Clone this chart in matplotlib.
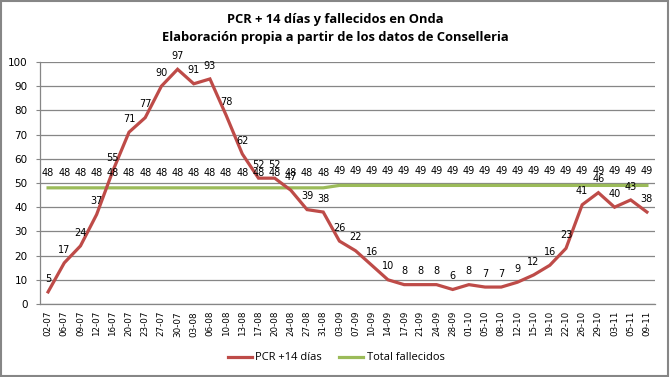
import numpy as np
import matplotlib
matplotlib.use("Agg")
import matplotlib.pyplot as plt
from matplotlib.patches import Rectangle

# Datos
fechas = ["02-07", "06-07", "09-07", "12-07", "16-07", "20-07", "23-07", "27-07",
          "30-07", "03-08", "06-08", "10-08", "13-08", "17-08", "20-08", "24-08",
          "27-08", "31-08", "03-09", "07-09", "10-09", "14-09", "17-09", "21-09",
          "24-09", "28-09", "01-10", "05-10", "08-10", "12-10", "15-10", "19-10",
          "22-10", "26-10", "29-10", "03-11", "05-11", "09-11"]
pcr = [5, 17, 24, 37, 55, 71, 77, 90, 97, 91, 93, 78, 62, 52, 52, 47, 39, 38,
       26, 22, 16, 10, 8, 8, 8, 6, 8, 7, 7, 9, 12, 16, 23, 41, 46, 40, 43, 38]
fallecidos = [48] * 18 + [49] * 20

rojo = "#BE4B48"
verde = "#9BBB59"
gris = "#868686"

fig = plt.figure(figsize=(6.7, 3.77), dpi=100)
ax = fig.add_axes([40 / 670, 73 / 377, 615 / 670, 242 / 377])

x = np.arange(len(fechas))
ax.plot(x, pcr, color=rojo, lw=2.3, solid_joinstyle="miter", zorder=3,
        label="PCR +14 días")
ax.plot(x, fallecidos, color=verde, lw=2.3, zorder=2, label="Total fallecidos")

# etiquetas de datos
for i, v in enumerate(pcr):
    ax.annotate(str(v), (i, v), xytext=(0, 6), textcoords="offset points",
                ha="center", va="bottom", fontsize=7, color="black",
                family="DejaVu Sans", zorder=5)
for i, v in enumerate(fallecidos):
    ax.annotate(str(v), (i, v), xytext=(0, 7), textcoords="offset points",
                ha="center", va="bottom", fontsize=7, color="black",
                family="DejaVu Sans", zorder=5)

ax.set_xlim(-0.5, len(fechas) - 0.5)
ax.set_ylim(0, 100)
ax.set_yticks(np.arange(0, 101, 10))
ax.set_xticks(x)
ax.set_xticklabels(fechas, rotation=90, fontsize=6.3, family="DejaVu Sans")
ax.tick_params(axis="y", labelsize=7.5, length=3, color=gris, pad=6)
ax.tick_params(axis="x", length=0, pad=5)
ax.grid(axis="y", color=gris, lw=0.9)
ax.set_axisbelow(True)
for s in ["top", "right"]:
    ax.spines[s].set_visible(False)
for s in ["left", "bottom"]:
    ax.spines[s].set_color(gris)
    ax.spines[s].set_linewidth(0.9)

fig.text(0.5, 1 - 19 / 377, "PCR + 14 días y fallecidos en Onda", ha="center",
         va="center", fontsize=9.3, fontweight="bold", family="Open Sans")
fig.text(0.5, 1 - 38 / 377, "Elaboración propia a partir de los datos de Conselleria",
         ha="center", va="center", fontsize=9.3, fontweight="bold", family="Open Sans")

fig.legend(loc="center", bbox_to_anchor=(336 / 670, 1 - 358 / 377), ncol=2,
           frameon=False, prop={"family": "Open Sans", "size": 8},
           handlelength=2.2, handletextpad=0.3, columnspacing=1.5)

fig.patches.append(Rectangle((0.002, 0.003), 0.995, 0.994, transform=fig.transFigure,
                             fill=False, edgecolor=gris, lw=1.5))

fig.savefig("out.png", dpi=100)
